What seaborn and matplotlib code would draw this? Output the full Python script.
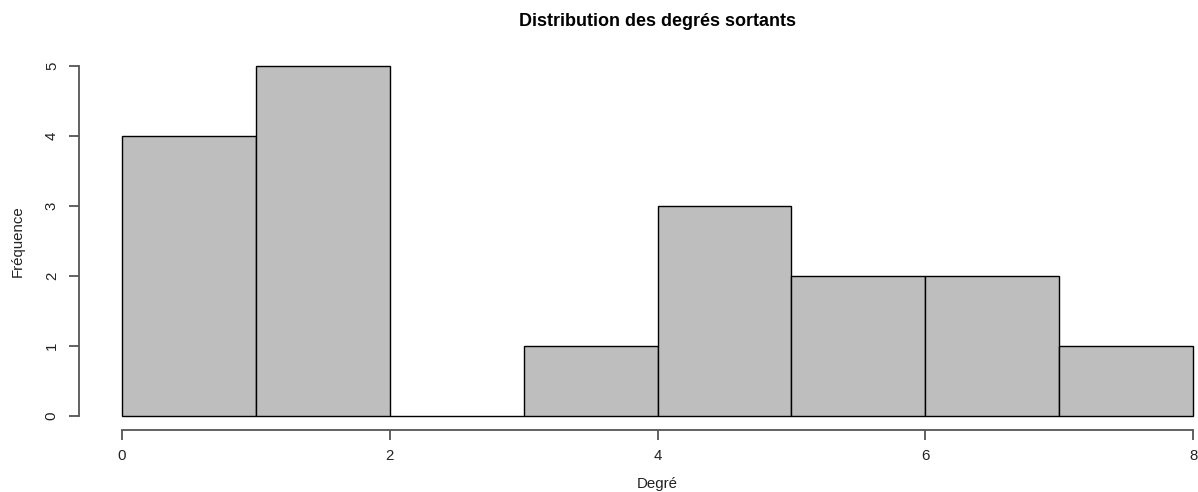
import matplotlib
matplotlib.use("Agg")
import matplotlib.pyplot as plt
import seaborn as sns
import numpy as np
import pandas as pd

# Histogram of out-degrees: bin edges and counts per bin
bin_edges = [0, 1, 2, 3, 4, 5, 6, 7, 8]
counts = [4, 5, 0, 1, 3, 2, 2, 1]
x_ticks = [0, 2, 4, 6, 8]
y_ticks = [0, 1, 2, 3, 4, 5]

title = "Distribution des degrés sortants"
x_label = "Degré"
y_label = "Fréquence"

sns.set_style("white")
plt.rcParams["font.family"] = ["Liberation Sans", "DejaVu Sans"]

W, H = 1198, 492
fig = plt.figure(figsize=(W / 100, H / 100), dpi=100)

# plot region in pixels
left_px, right_px = 79, 1236
top_px, bottom_px = 52, 430
ax = fig.add_axes([left_px / W, 1 - bottom_px / H,
                   (right_px - left_px) / W, (bottom_px - top_px) / H])

df = pd.DataFrame({
    "centre": [(a + b) / 2 for a, b in zip(bin_edges[:-1], bin_edges[1:])],
    "n": counts,
})
sns.histplot(data=df, x="centre", weights="n", bins=bin_edges, ax=ax,
             color="#BEBEBE", edgecolor="black", linewidth=1.0, alpha=1.0)

pad_x = 0.04 * (bin_edges[-1] - bin_edges[0])
pad_y = 0.04 * max(y_ticks)
ax.set_xlim(bin_edges[0] - pad_x, bin_edges[-1] + pad_x)
ax.set_ylim(-pad_y, max(y_ticks) + pad_y)

for s in ["top", "right"]:
    ax.spines[s].set_visible(False)
axis_col = "#555555"
ax.spines["left"].set_bounds(y_ticks[0], y_ticks[-1])
ax.spines["bottom"].set_bounds(x_ticks[0], x_ticks[-1])
for s in ["left", "bottom"]:
    ax.spines[s].set_color(axis_col)
    ax.spines[s].set_linewidth(1.3)
ax.set_xticks(x_ticks)
ax.set_yticks(y_ticks)
ax.set_yticklabels([str(v) for v in y_ticks], rotation=90, va="center")
ax.tick_params(axis="both", length=7, width=1.3, color=axis_col,
               labelsize=10.8, labelcolor="#222222",
               left=True, bottom=True)
ax.tick_params(axis="x", pad=6.5)
ax.tick_params(axis="y", pad=7.5)
ax.set_xlabel("")
ax.set_ylabel("")

cx = (left_px + right_px) / 2 / W
fig.text(cx, 1 - 22 / H, title, ha="center", va="center",
         fontsize=13, fontweight="bold", color="black")
fig.text(cx, 1 - 484 / H, x_label, ha="center", va="center",
         fontsize=10.8, color="#222222")
fig.text(18 / W, 1 - 241 / H, y_label, ha="center",
         va="center", rotation=90, fontsize=10.8, color="#222222")

fig.savefig("out.png", dpi=100, facecolor="white")
